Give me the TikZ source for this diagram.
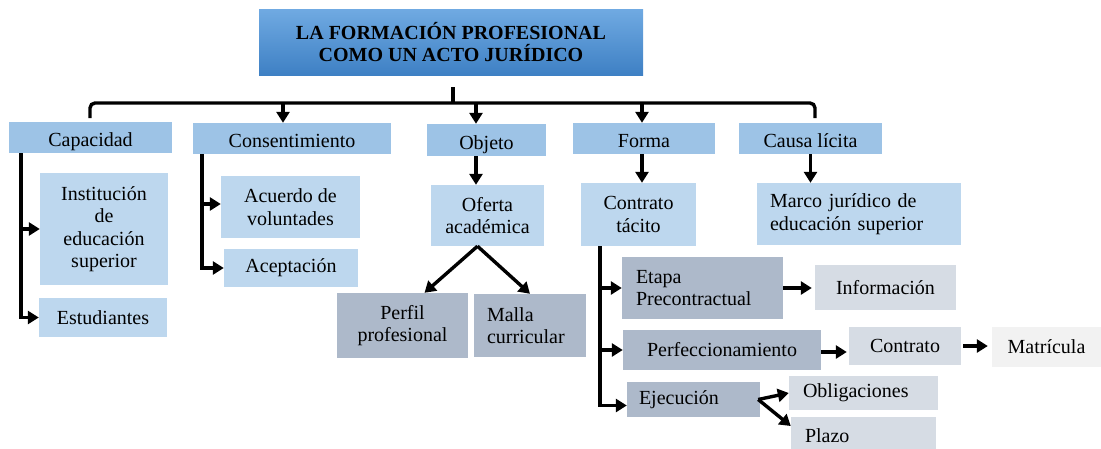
\documentclass[tikz,border=0pt]{standalone}
\usepackage{fontspec}
\setmainfont{Liberation Serif}
\usepackage{xcolor}
\usetikzlibrary{arrows.meta,positioning,calc}

\definecolor{headtop}{RGB}{112,170,226}
\definecolor{headbot}{RGB}{62,128,196}
\definecolor{blueA}{RGB}{157,195,230}
\definecolor{blueB}{RGB}{189,215,238}
\definecolor{greyA}{RGB}{173,185,202}
\definecolor{greyB}{RGB}{214,220,228}
\definecolor{greyC}{RGB}{242,242,242}

\begin{document}
\begin{tikzpicture}[
    x=1pt, y=-1pt,
    font=\fontsize{20}{22.5}\selectfont,
    box/.style={inner sep=0pt, align=center},
    headbox/.style={box, top color=headtop, bottom color=headbot, font=\fontsize{20}{22}\selectfont\bfseries},
    lvA/.style={box, fill=blueA, text height=22pt, text depth=4pt},
    lvB/.style={box, fill=blueB},
    lvC/.style={box, fill=greyA},
    lvD/.style={box, fill=greyB},
    lvE/.style={box, fill=greyC},
    lft/.style={align=left, inner xsep=#1},
    conn/.style={line width=3.4pt},
    arr/.style={conn, -{Triangle[length=11pt,width=13pt]}}
]
    \useasboundingbox (0,0) rectangle (1101,448);
    \clip (0,0) rectangle (1101,448);

    % Title
    \node[headbox, minimum width=384pt, minimum height=66pt] (head) at (451,42)
        {LA FORMACIÓN PROFESIONAL\\COMO UN ACTO JURÍDICO};

    % Level 1
    \node[lvA, minimum width=163pt, minimum height=31pt] (cap) at (90.5,137.5) {Capacidad};
    \node[lvA, minimum width=198pt, minimum height=31pt] (cons) at (292,138.5) {Consentimiento};
    \node[lvA, minimum width=119pt, minimum height=32pt] (obj) at (486.5,140) {Objeto};
    \node[lvA, minimum width=142pt, minimum height=31pt] (forma) at (644,138.5) {Forma};
    \node[lvA, minimum width=143pt, minimum height=31pt] (causa) at (810.5,138.5) {Causa lícita};

    % Bracket
    \coordinate (bar) at (453,103);
    \coordinate (brL) at (90,118);
    \coordinate (brR) at (815,118);
    \draw[conn, rounded corners=5pt] (brL) |- (bar) -| (brR);
    \draw[conn] ([yshift=-12pt]head.south -| bar) -- (bar);
    \coordinate (bcons) at (283,103);
    \coordinate (bobj) at (476,103);
    \coordinate (bforma) at (642,103);
    \draw[arr] (bcons) -- (bcons |- cons.north);
    \draw[arr] (bobj) -- (bobj |- obj.north);
    \draw[arr] (bforma) -- (bforma |- forma.north);

    % Level 2
    \node[lvB, minimum width=128pt, minimum height=112pt] (inst) at (104,229)
        {Institución\\de\\educación\\superior};
    \node[lvB, minimum width=128pt, minimum height=39pt] (estud) at (103,317.5) {Estudiantes};
    \node[lvB, minimum width=139pt, minimum height=62pt] (acuer) at (290.5,207) {Acuerdo de\\voluntades};
    \node[lvB, minimum width=134pt, minimum height=38pt] (acept) at (291,268) {Aceptación};
    \node[lvB, minimum width=113pt, minimum height=61pt] (ofer) at (487.5,215.5) {Oferta\\académica};
    \node[lvB, minimum width=115pt, minimum height=63pt] (ctac) at (638.5,214.5) {Contrato\\tácito};
    \node[lvB, lft=13pt, text width=178pt, minimum height=62pt] (marco) at (859,214)
        {Marco jurídico de\\educación superior};

    \draw[arr] ([xshift=12pt]cap.south west) |- (inst.west);
    \draw[arr] ([xshift=12pt]cap.south west) |- (estud.west);
    \draw[arr] ([xshift=9pt]cons.south west) |- ([yshift=3pt]acuer.west);
    \draw[arr] ([xshift=9pt]cons.south west) |- (acept.west);
    \draw[arr] (obj.south -| bobj) -- (bobj |- ofer.north);
    \draw[arr] (forma.south -| bforma) -- (bforma |- ctac.north);
    \draw[arr] (causa.south) -- (causa.south |- marco.north);

    % Level 3
    \node[lvC, minimum width=131pt, minimum height=65pt] (perfil) at (402.5,325.5) {Perfil\\profesional};
    \node[lvC, lft=13pt, text width=86pt, minimum height=63pt] (malla) at (530,325.5) {Malla\\curricular};
    \node[lvC, lft=14pt, text width=133pt, minimum height=62pt] (etapa) at (702.5,288) {Etapa\\Precontractual};
    \node[lvC, minimum width=198pt, minimum height=40pt] (perfec) at (722,350) {Perfeccionamiento};
    \node[lvC, lft=12pt, text width=109pt, minimum height=35pt] (ejec) at (693.5,399.5) {Ejecución};

    \coordinate (ofp) at ([xshift=-10pt]ofer.south);
    \draw[arr] (ofp) -- ([xshift=22pt]perfil.north);
    \draw[arr] (ofp) -- (malla.north);
    \draw[arr] ([xshift=19pt]ctac.south west) |- (etapa.west);
    \draw[arr] ([xshift=19pt]ctac.south west) |- (perfec.west);
    \draw[arr] ([xshift=19pt]ctac.south west) |- ([yshift=-6pt]ejec.west);

    % Level 4
    \node[lvD, minimum width=141pt, minimum height=45pt] (info) at (885.5,287.5) {Información};
    \node[lvD, minimum width=112pt, minimum height=38pt] (contr) at (905,346) {Contrato};
    \node[lvE, minimum width=109pt, minimum height=40pt] (matr) at (1046.5,347) {Matrícula};
    \node[lvD, lft=14pt, text width=121pt, minimum height=34pt] (oblig) at (863.5,393) {Obligaciones};
    \node[lvD, lft=14pt, text width=117pt, minimum height=38pt] (plazo) at (863.5,436) {Plazo};

    \draw[arr, shorten >=3pt] (etapa.east) -- (etapa.east -| info.west);
    \draw[arr, shorten >=2pt] ([yshift=-2pt]perfec.east) -- ([yshift=-2pt]perfec.east -| contr.west);
    \draw[arr, shorten <=2pt, shorten >=4pt] (contr.east) -- (contr.east -| matr.west);
    \draw[arr] ([xshift=-2pt]ejec.east) -- (oblig.west);
    \draw[arr] ([xshift=-2pt]ejec.east) -- ([yshift=10pt]plazo.west);
\end{tikzpicture}
\end{document}
